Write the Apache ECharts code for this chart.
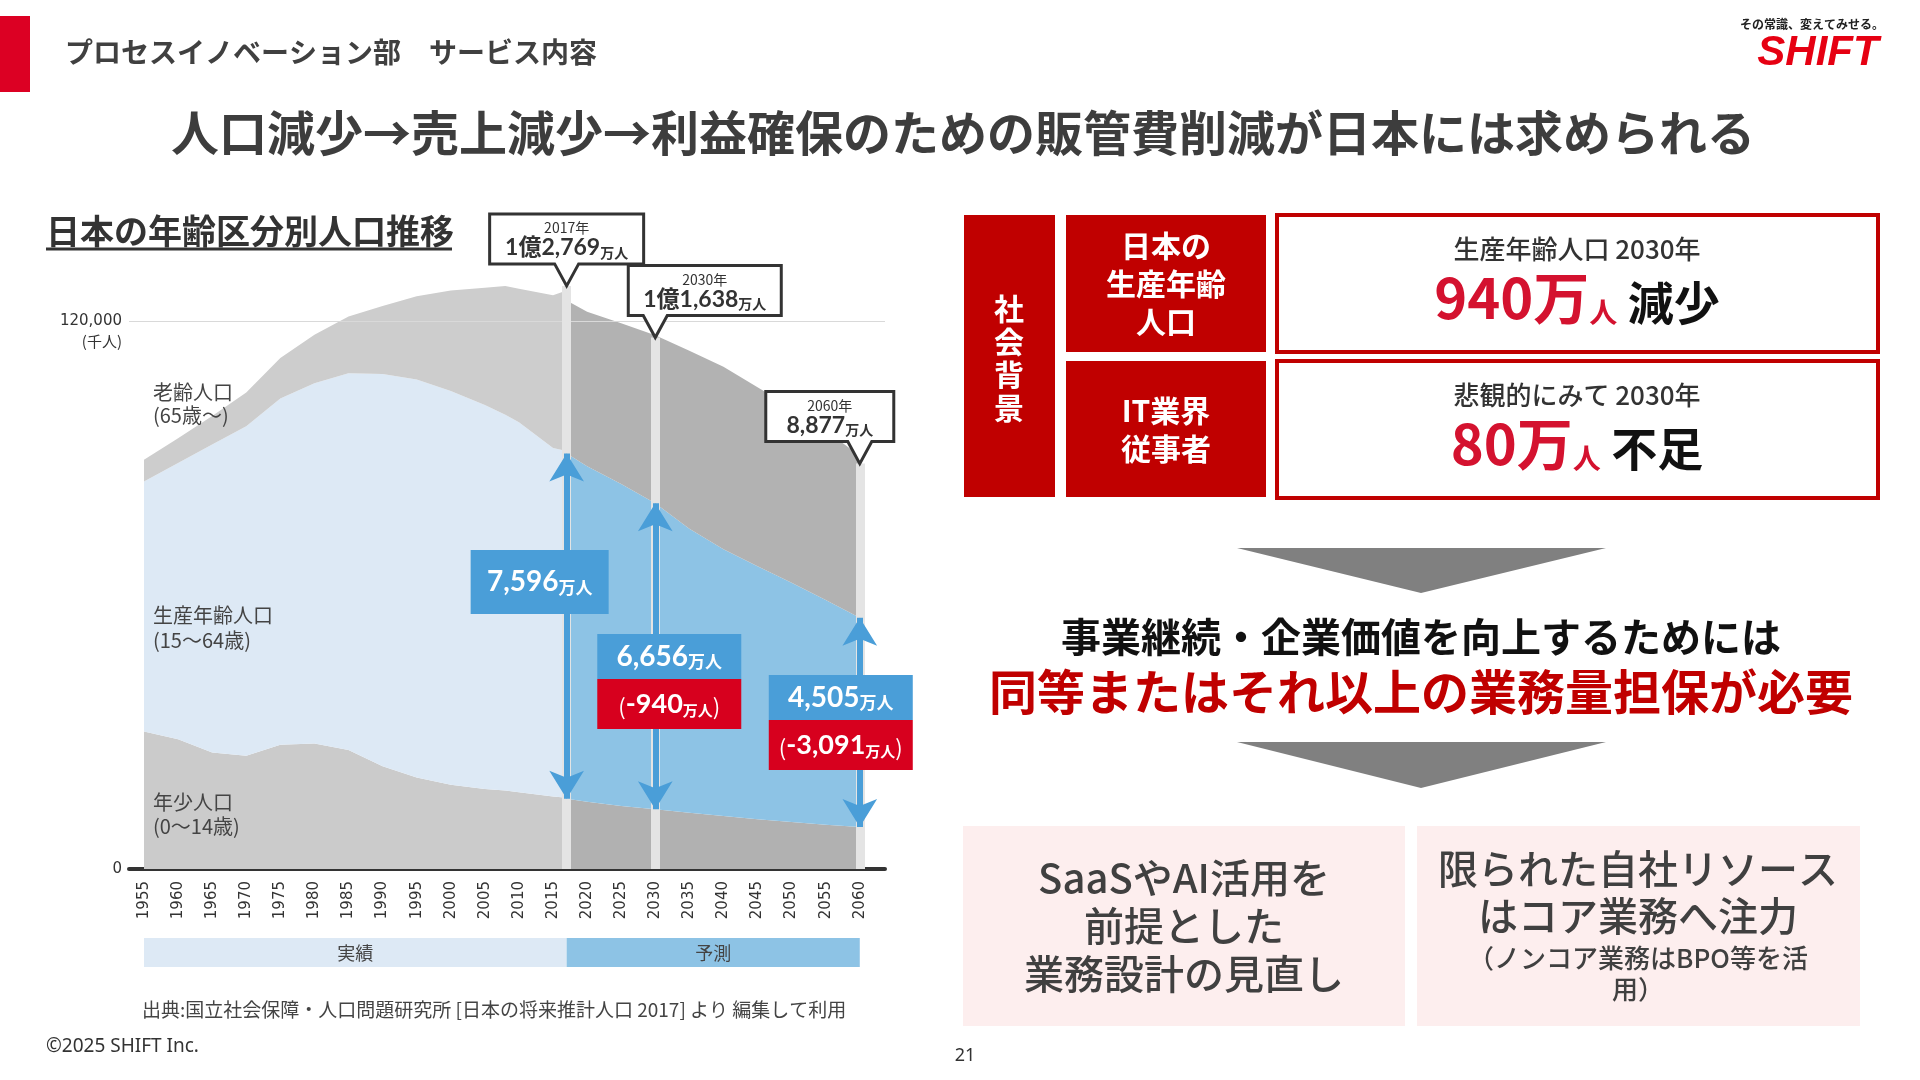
<!DOCTYPE html>
<html lang="ja">
<head>
<meta charset="utf-8">
<title>人口減少→売上減少→利益確保のための販管費削減が日本には求められる</title>
<script src="https://cdn.jsdelivr.net/npm/echarts@6/dist/echarts.min.js"></script>
<style>
  html, body { margin: 0; padding: 0; background: #fff; }
  #chart { width: 1920px; height: 1080px; }
</style>
</head>
<body>
<div id="chart"></div>
<script>
var FONT = '"Noto Sans CJK JP", "Noto Sans", sans-serif';
var NUM = 'Lato, "Noto Sans CJK JP", sans-serif';

// 実績 (千人)
var actualYears   = [1955, 1960, 1965, 1970, 1975, 1980, 1985, 1990, 1995, 2000, 2005, 2008, 2010, 2015, 2017];
var actualYouth   = [30123, 28434, 25529, 24823, 27221, 27507, 26033, 22486, 20014, 18472, 17521, 17176, 16803, 15887, 15592];
var actualWorking = [54730, 60469, 67444, 72119, 75807, 78835, 82506, 85904, 87165, 86220, 84092, 82300, 81032, 76289, 75962];
var actualElderly = [4786, 5398, 6236, 7393, 8865, 10647, 12468, 14895, 18261, 22005, 25672, 28216, 29246, 33465, 35152];

// 予測 (千人)
var projYears   = [2017, 2020, 2025, 2030, 2035, 2040, 2045, 2050, 2055, 2060];
var projYouth   = [15400, 14700, 13800, 13100, 12300, 11600, 10900, 10300, 9700, 9200];
var projWorking = [75600, 73500, 70500, 67000, 62200, 58400, 55400, 52400, 49200, 45800];
var projElderly = [33500, 33800, 35200, 36800, 39000, 40000, 39200, 38300, 37100, 35500];

// axis ticks
var axisYears = [1955, 1960, 1965, 1970, 1975, 1980, 1985, 1990, 1995, 2000, 2005, 2010,
                 2015, 2020, 2025, 2030, 2035, 2040, 2045, 2050, 2055, 2060];

// 吹き出し (総人口, 千人) と 生産年齢人口 (千人)
var calloutYears  = [2017, 2030, 2060];
var calloutTotals = [127690, 116380, 88770];
var workingValues = [75960, 66560, 45050];

// value first, year second: the stack then runs on the value dimension
function pairs(xs, ys) {
    return xs.map(function (x, i) { return [ys[i], x]; });
}

function area(name, stack, xs, ys, color) {
    return {
        name: name, type: 'line', stack: stack, data: pairs(xs, ys),
        encode: { x: 1, y: 0 },
        symbol: 'none', showSymbol: false, silent: true, z: 2,
        lineStyle: { width: 0 },
        areaStyle: { color: color, opacity: 1 },
        emphasis: { disabled: true }
    };
}

function fmtMan(thousand) {
    var man = Math.round(thousand / 10);
    if (man >= 10000) {
        return Math.floor(man / 10000) + '億' + (man % 10000).toLocaleString('en-US');
    }
    return man.toLocaleString('en-US');
}

var chart = echarts.init(document.getElementById('chart'));

chart.setOption({
    animation: false,
    backgroundColor: '#fff',
    grid: { left: 129, right: 1035, top: 229.67, bottom: 211, containLabel: false, outerBoundsMode: 'none' },
    xAxis: {
        type: 'value', min: 1952.8, max: 2063.7,
        splitLine: { show: false },
        axisTick: { show: false },
        axisLine: { lineStyle: { color: '#333', width: 4 } },
        axisLabel: {
            customValues: axisYears, rotate: 90, margin: 12,
            fontSize: 15, color: '#333', fontFamily: '"DejaVu Sans", sans-serif',
            formatter: function (v) { return String(v); }
        }
    },
    yAxis: {
        type: 'value', min: 0, max: 140000, interval: 120000,
        splitLine: { show: false },
        axisTick: { show: false },
        axisLine: { show: false },
        axisLabel: {
            margin: 7, fontSize: 15, color: '#333', fontFamily: '"DejaVu Sans", sans-serif',
            formatter: function (v) { return v === 0 ? '0' : (v === 120000 ? '120,000' : ''); }
        }
    },
    series: [
        {
            id: 'gridline', type: 'line', data: [], z: 1, silent: true,
            markLine: {
                silent: true, symbol: 'none', label: { show: false },
                lineStyle: { color: '#d9d9d9', width: 1, type: 'solid' },
                data: [{ yAxis: 120000 }]
            }
        },
        area('年少人口', 'act', actualYears, actualYouth, '#cbcbcb'),
        area('生産年齢人口', 'act', actualYears, actualWorking, '#dde9f5'),
        area('老齢人口', 'act', actualYears, actualElderly, '#cdcdcd'),
        area('年少人口(予測)', 'prj', projYears, projYouth, '#b1b1b1'),
        area('生産年齢人口(予測)', 'prj', projYears, projWorking, '#8dc3e5'),
        area('老齢人口(予測)', 'prj', projYears, projElderly, '#b2b2b2'),
        { id: 'bars', type: 'line', data: [], z: 3, silent: true },
        { id: 'arrows', type: 'line', data: [], z: 4, silent: true }
    ]
});

function valAt(years, arr, y) { return arr[years.indexOf(y)]; }

function buildOverlay() {
    var P = function (x, y) { return chart.convertToPixel({ gridIndex: 0 }, [x, y]); };

    var barLines = calloutYears.map(function (yr, i) {
        return [{ coord: [yr, 0] }, { coord: [yr, calloutTotals[i]] }];
    });
    // arrow tips sit on the youth / working-age boundaries
    var arrowLines = calloutYears.map(function (yr) {
        var lo = valAt(projYears, projYouth, yr);
        var hi = lo + valAt(projYears, projWorking, yr);
        return [{ coord: [yr, lo] }, { coord: [yr, hi] }];
    });

    var g = [];
    function T(x, y, text, size, o) {
        o = o || {};
        g.push({
            type: 'text', x: x, y: y, z: 100, silent: true,
            style: {
                text: text, fontSize: size, fontFamily: o.family || FONT,
                fontWeight: o.weight || 'normal', fill: o.color || '#333',
                fontStyle: o.italic ? 'italic' : 'normal',
                align: o.align || 'left', verticalAlign: o.va || 'middle',
                lineHeight: o.lh, rich: o.rich
            }
        });
    }
    function R(x, y, w, h, fill, stroke, lw) {
        g.push({
            type: 'rect', z: 90, silent: true, shape: { x: x, y: y, width: w, height: h },
            style: { fill: fill, stroke: stroke || null, lineWidth: lw || 0 }
        });
    }
    function POLY(pts, fill, stroke, lw) {
        g.push({
            type: 'polygon', z: 95, silent: true, shape: { points: pts },
            style: { fill: fill, stroke: stroke || null, lineWidth: lw || 0, lineJoin: 'miter' }
        });
    }
    // rich token with baseline-friendly line height
    function tok(size, family, color, weight) {
        return { fontSize: size, fontFamily: family, fill: color, fontWeight: weight || 'bold', verticalAlign: 'bottom', lineHeight: size };
    }

    // ---- header ----
    R(0, 16, 30, 76, '#dc0023');
    T(65, 52, 'プロセスイノベーション部　サービス内容', 28, { weight: 'bold', color: '#404040' });
    T(963, 133, '人口減少→売上減少→利益確保のための販管費削減が日本には求められる', 48, { weight: 'bold', color: '#3d3d3d', align: 'center' });
    T(1812, 24, 'その常識、変えてみせる。', 12, { weight: 'bold', color: '#222', align: 'center' });
    T(1818, 53, 'SHIFT', 42, { family: '"Liberation Sans", Arial, sans-serif', weight: 'bold', color: '#e60012', align: 'center', italic: true });

    // ---- chart annotations ----
    T(46, 231, '日本の年齢区分別人口推移', 34, { weight: 'bold', color: '#333' });
    g.push({ type: 'line', z: 100, silent: true, shape: { x1: 46, y1: 249, x2: 452, y2: 249 }, style: { stroke: '#333', lineWidth: 3 } });
    T(122, 341, '(千人)', 15, { align: 'right', color: '#333' });

    T(153, 392, '老齢人口', 20, { color: '#444' });
    T(153, 415, '(65歳〜)', 20, { color: '#444' });
    T(153, 615, '生産年齢人口', 20, { color: '#444' });
    T(153, 640, '(15〜64歳)', 20, { color: '#444' });
    T(153, 802, '年少人口', 20, { color: '#444' });
    T(153, 826, '(0〜14歳)', 20, { color: '#444' });

    // callouts
    var boxLeft = [-77, -27, -94], boxW = [154, 153, 128];
    calloutYears.forEach(function (yr, i) {
        var tip = P(yr, calloutTotals[i]);
        var tx = tip[0], ty = tip[1];
        var bottom = ty - 22, top = bottom - 50;
        var left = tx + boxLeft[i], right = left + boxW[i];
        POLY([[left, top], [right, top], [right, bottom], [tx + 12, bottom], [tx, ty], [tx - 12, bottom], [left, bottom]],
            '#fff', '#333', 3);
        var cx = (left + right) / 2;
        T(cx, top + 14, yr + '年', 14, { align: 'center', color: '#333' });
        T(cx, top + 34, '{n|' + fmtMan(calloutTotals[i]) + '}{u|万人}', 23, {
            align: 'center',
            rich: { n: tok(23, NUM, '#333'), u: tok(14, FONT, '#333') }
        });
    });

    // value boxes
    var blueRich = { n: tok(28, NUM, '#fff'), u: tok(17, FONT, '#fff') };
    var redRich = { p: tok(22, FONT, '#fff', 'normal'), n: tok(27, NUM, '#fff'), u: tok(15, FONT, '#fff') };
    var vbLeft = [-96, -58, -91], vbW = [138, 144, 144], vbTop = [550, 634, 675], vbH = [64, 45, 45];
    calloutYears.forEach(function (yr, i) {
        var ax = P(yr, 0)[0];
        var l = ax + vbLeft[i], t = vbTop[i];
        R(l, t, vbW[i], vbH[i], '#4a9ed8');
        T(l + vbW[i] / 2, t + vbH[i] / 2, '{n|' + fmtMan(workingValues[i]) + '}{u|万人}', 28, { align: 'center', rich: blueRich });
        if (i > 0) {
            var diff = workingValues[i] - workingValues[0];
            R(l, t + vbH[i], vbW[i], 50, '#d7001e');
            T(l + vbW[i] / 2, t + vbH[i] + 25, '{p|(}{n|-' + fmtMan(-diff) + '}{u|万人}{p|)}', 27, { align: 'center', rich: redRich });
        }
    });

    // 実績 / 予測 band
    var x0 = P(1955, 0)[0], x1 = P(2017, 0)[0], x2 = P(2060, 0)[0];
    R(x0, 938, x1 - x0, 29, '#dde9f5');
    R(x1, 938, x2 - x1, 29, '#8dc3e5');
    T((x0 + x1) / 2, 953, '実績', 18, { align: 'center', color: '#444' });
    T((x1 + x2) / 2, 953, '予測', 18, { align: 'center', color: '#444' });

    T(142, 1010, '出典:国立社会保障・人口問題研究所 [日本の将来推計人口 2017] より 編集して利用', 19, { color: '#444' });
    T(46, 1047, '©2025 SHIFT Inc.', 19, { color: '#333', family: '"Noto Sans", sans-serif' });
    T(965, 1056, '21', 18, { color: '#333', align: 'center', family: '"Noto Sans", sans-serif' });

    // ---- right panel ----
    R(964, 215, 91, 282, '#c00000');
    T(1009, 358, '社\n会\n背\n景', 30, { weight: 'bold', color: '#fff', align: 'center', lh: 33 });
    R(1066, 215, 200, 137, '#c00000');
    T(1166, 284, '日本の\n生産年齢\n人口', 30, { weight: 'bold', color: '#fff', align: 'center', lh: 38 });
    R(1066, 361, 200, 136, '#c00000');
    T(1166, 430, 'IT業界\n従事者', 30, { weight: 'bold', color: '#fff', align: 'center', lh: 38 });

    R(1277, 215, 601, 137, '#fff', '#c00000', 4);
    R(1277, 361, 601, 137, '#fff', '#c00000', 4);
    var bigRich = { r: tok(56, FONT, '#d4122f'), s: tok(28, FONT, '#d4122f'), k: tok(46, FONT, '#111') };
    T(1577, 249, '生産年齢人口 2030年', 26, { align: 'center', color: '#333', weight: 500 });
    T(1577, 298, '{r|940万}{s|人}{k| 減少}', 56, { align: 'center', rich: bigRich });
    T(1577, 395, '悲観的にみて 2030年', 26, { align: 'center', color: '#333', weight: 500 });
    T(1577, 444, '{r|80万}{s|人}{k| 不足}', 56, { align: 'center', rich: bigRich });

    POLY([[1237, 548], [1606, 548], [1421, 593]], '#808080');
    T(1421, 637, '事業継続・企業価値を向上するためには', 40, { weight: 'bold', color: '#111', align: 'center' });
    T(1421, 692, '同等またはそれ以上の業務量担保が必要', 48, { weight: 'bold', color: '#c00000', align: 'center' });
    POLY([[1237, 742], [1606, 742], [1421, 788]], '#808080');

    R(963, 826, 442, 200, '#fdeeee');
    R(1417, 826, 443, 200, '#fdeeee');
    T(1184, 926, 'SaaSやAI活用を\n前提とした\n業務設計の見直し', 40, { weight: 500, color: '#404040', align: 'center', lh: 48 });
    T(1638, 869, '限られた自社リソース', 40, { weight: 500, color: '#404040', align: 'center' });
    T(1638, 916, 'はコア業務へ注力', 40, { weight: 500, color: '#404040', align: 'center' });
    T(1638, 958, '（ノンコア業務はBPO等を活', 26, { weight: 500, color: '#404040', align: 'center' });
    T(1638, 989, '用）', 26, { weight: 500, color: '#404040', align: 'center' });

    chart.setOption({
        series: [
            {
                id: 'bars',
                markLine: {
                    silent: true, symbol: 'none', label: { show: false },
                    lineStyle: { color: '#e4e4e4', width: 9, type: 'solid' },
                    data: barLines
                }
            },
            {
                id: 'arrows',
                markLine: {
                    silent: true, symbol: ['arrow', 'arrow'], symbolSize: [26, 28], label: { show: false },
                    lineStyle: { color: '#4a9ed8', width: 6, type: 'solid' },
                    itemStyle: { color: '#4a9ed8' },
                    data: arrowLines
                }
            }
        ],
        graphic: { elements: g }
    });
}

buildOverlay();
</script>
</body>
</html>
